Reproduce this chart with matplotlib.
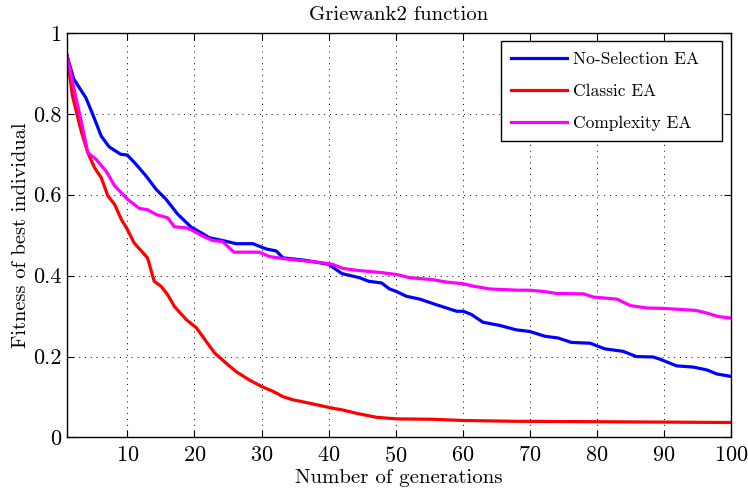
import matplotlib
matplotlib.use("Agg")
import matplotlib.pyplot as plt

# generations / fitness
gen_noselect = [1, 2, 3.8, 4.8, 6.1, 7.3, 9, 10, 11.3, 12.8, 14.3, 15.7, 17.5, 19.5, 21, 22.2,
                24.7, 26.2, 28.7, 30.7, 32.2, 33.2, 36.5, 40, 42, 44.6, 46, 47.9, 49.1, 50.1,
                51.6, 53.6, 56.1, 57.6, 59.1, 60.1, 61.3, 63, 65.5, 68, 70, 72.3, 74.2, 76.2,
                79, 81.2, 83.9, 85.9, 88.4, 89.5, 91.9, 94.4, 96.4, 97.9, 100]
fit_noselect = [0.944, 0.886, 0.84, 0.80, 0.745, 0.718, 0.70, 0.698, 0.675, 0.646, 0.613, 0.59,
                0.552, 0.52, 0.506, 0.494, 0.485, 0.479, 0.479, 0.466, 0.461, 0.444, 0.438,
                0.428, 0.405, 0.395, 0.386, 0.382, 0.367, 0.361, 0.349, 0.342, 0.328, 0.320,
                0.312, 0.312, 0.304, 0.285, 0.277, 0.266, 0.262, 0.250, 0.246, 0.235, 0.233,
                0.219, 0.213, 0.200, 0.199, 0.193, 0.177, 0.174, 0.167, 0.157, 0.151]

gen_classic = [1, 1.8, 3.1, 4.1, 5.1, 6.1, 7.1, 8.1, 9.1, 10, 11, 13, 14, 15, 16, 17, 18.8,
               20.3, 21.2, 23, 24.7, 26.2, 28.2, 30, 31.7, 33.2, 34.7, 36.5, 38.2, 40.1, 42.1,
               44.1, 47.1, 50.1, 55.5, 60, 68, 80, 90, 100]
fit_classic = [0.944, 0.845, 0.758, 0.704, 0.667, 0.642, 0.597, 0.576, 0.539, 0.514, 0.481,
               0.444, 0.386, 0.374, 0.353, 0.324, 0.291, 0.271, 0.250, 0.209, 0.184, 0.163,
               0.142, 0.126, 0.114, 0.101, 0.093, 0.087, 0.081, 0.074, 0.068, 0.060, 0.050,
               0.046, 0.045, 0.042, 0.040, 0.039, 0.038, 0.037]

gen_complex = [1, 2.1, 3.1, 4.1, 5.3, 6.8, 8.1, 9.3, 10, 11.8, 13, 14.3, 16, 17, 18.8, 19.7,
               21.2, 22.7, 24.2, 25.9, 29.7, 31.2, 34.2, 36.7, 39, 40.6, 42.1, 44.3, 47.6,
               50.1, 52.1, 55.6, 57.6, 60.1, 61.6, 64.1, 68.3, 70, 72, 74, 78, 79.5, 83, 85,
               87.5, 90, 94.8, 96.3, 98.1, 100]
fit_complex = [0.944, 0.857, 0.783, 0.704, 0.688, 0.659, 0.622, 0.601, 0.589, 0.566, 0.563,
               0.551, 0.543, 0.521, 0.518, 0.512, 0.498, 0.487, 0.484, 0.458, 0.458, 0.447,
               0.440, 0.436, 0.432, 0.428, 0.418, 0.413, 0.408, 0.403, 0.395, 0.390, 0.384,
               0.380, 0.374, 0.367, 0.364, 0.364, 0.361, 0.356, 0.355, 0.347, 0.342, 0.326,
               0.320, 0.319, 0.314, 0.308, 0.299, 0.295]

xticks = [10, 20, 30, 40, 50, 60, 70, 80, 90, 100]
yticks = [0, 0.2, 0.4, 0.6, 0.8, 1]
ylabels = ["0", "0.2", "0.4", "0.6", "0.8", "1"]

plt.rcParams['font.family'] = 'serif'
plt.rcParams['font.serif'] = ['cmr10', 'DejaVu Serif']
plt.rcParams['axes.formatter.use_mathtext'] = True
plt.rcParams['mathtext.fontset'] = 'cm'

fig = plt.figure(figsize=(7.48, 4.91), dpi=100)
ax = fig.add_axes([0.0896, 0.109, 0.8876, 0.824])

ax.plot(gen_noselect, fit_noselect, color='#0000ff', lw=2.3, label='No-Selection EA')
ax.plot(gen_classic, fit_classic, color='#ff0000', lw=2.3, label='Classic EA')
ax.plot(gen_complex, fit_complex, color='#ff00ff', lw=2.3, label='Complexity EA')

ax.set_xlim(1, 100)
ax.set_ylim(0, 1)
ax.set_xticks(xticks)
ax.set_yticks(yticks)
ax.set_yticklabels(ylabels)
ax.tick_params(direction='in', top=True, right=True, labelsize=16, length=5, pad=4)
ax.tick_params(axis='x', pad=6)
ax.grid(True, color='black', linestyle=(0, (1, 5)), linewidth=0.7)
for s in ax.spines.values():
    s.set_linewidth(1.0)

ax.set_title('Griewank2 function', fontsize=15, pad=9)
ax.set_xlabel('Number of generations', fontsize=15, labelpad=2)
ax.set_ylabel('Fitness of best individual', fontsize=14.7, labelpad=2)

leg = ax.legend(loc='upper left', bbox_to_anchor=(0.653, 0.0, 0.333, 0.979), mode='expand',
                fontsize=12.5, fancybox=False, framealpha=1, edgecolor='black',
                borderpad=0.6, labelspacing=0.95, handlelength=3.2, handletextpad=0.35,
                borderaxespad=0.0)
leg.get_frame().set_linewidth(1.0)

fig.savefig('out.png', dpi=100)
